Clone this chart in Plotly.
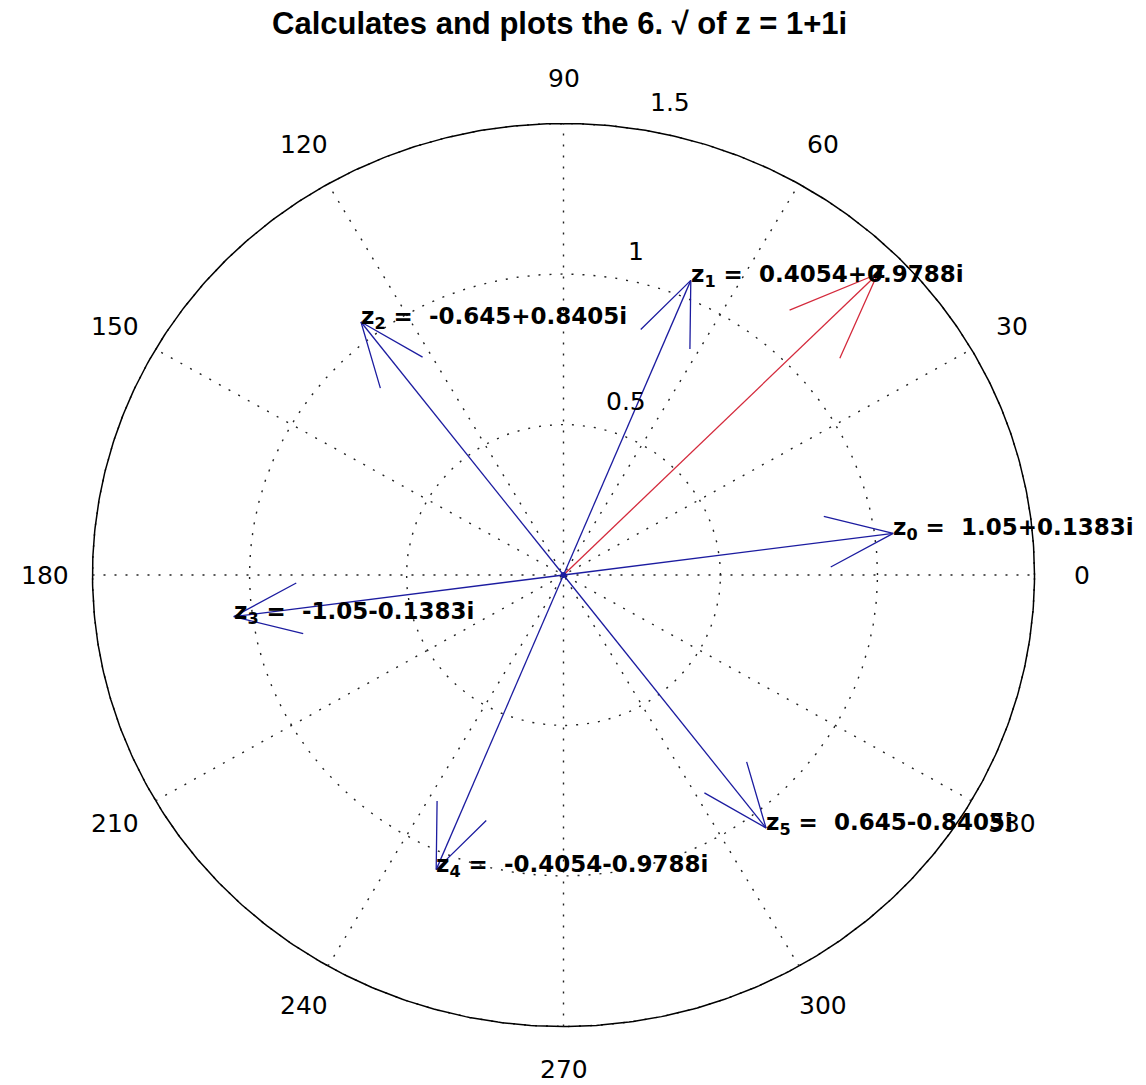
import numpy as np
import plotly.graph_objects as go

# ---- data ----
root_re = [1.05, 0.4054, -0.645, -1.05, -0.4054, 0.645]
root_im = [0.1383, 0.9788, 0.8405, -0.1383, -0.9788, -0.8405]
root_txt = ["1.05+0.1383i", "0.4054+0.9788i", "-0.645+0.8405i",
            "-1.05-0.1383i", "-0.4054-0.9788i", "0.645-0.8405i"]
z_re = [1.0]
z_im = [1.0]
angle_ticks = [0, 30, 60, 90, 120, 150, 180, 210, 240, 270, 300, 330]
r_ticks = [0.5, 1.0, 1.5]
title_txt = "Calculates and plots the 6. √ of z = 1+1i"

# ---- pixel mapping (plot area = full figure) ----
W, H = 1146, 1085
CX, CY = 563.5, 575.0
SX, SY = 314.0, 301.0
xr = [-CX / SX, (W - CX) / SX]
yr = [-(H - CY) / SY, CY / SY]

rmax = max(r_ticks)
GRID = "#222222"
BLUE = "#1c1ca0"
RED = "#d42a3c"

fig = go.Figure()

# grid circles (dotted) and outer solid circle
t = np.linspace(0, 2 * np.pi, 721)
for r in r_ticks:
    fig.add_trace(go.Scatter(x=r * np.cos(t), y=r * np.sin(t), mode="lines",
                             line=dict(color=GRID, width=1.4, dash="2px,9px"),
                             hoverinfo="skip", showlegend=False))
fig.add_trace(go.Scatter(x=rmax * np.cos(t), y=rmax * np.sin(t), mode="lines",
                         line=dict(color="#000000", width=1.5),
                         hoverinfo="skip", showlegend=False))

# spokes (dotted diameters)
sx, sy = [], []
for a in angle_ticks[:6]:
    th = np.deg2rad(a)
    sx += [-rmax * np.cos(th), rmax * np.cos(th), None]
    sy += [-rmax * np.sin(th), rmax * np.sin(th), None]
fig.add_trace(go.Scatter(x=sx, y=sy, mode="lines",
                         line=dict(color=GRID, width=1.4, dash="2px,9px"),
                         hoverinfo="skip", showlegend=False))


def arrows(res, ims):
    xs, ys = [], []
    for re_, im_ in zip(res, ims):
        z = complex(re_, im_)
        b1 = 0.8 * z + 0.08j * z
        b2 = 0.8 * z - 0.08j * z
        xs += [0, z.real, None, b1.real, z.real, b2.real, None]
        ys += [0, z.imag, None, b1.imag, z.imag, b2.imag, None]
    return xs, ys


bx, by = arrows(root_re, root_im)
fig.add_trace(go.Scatter(x=bx, y=by, mode="lines", line=dict(color=BLUE, width=1.3),
                         hoverinfo="skip", showlegend=False))
rx, ry = arrows(z_re, z_im)
fig.add_trace(go.Scatter(x=rx, y=ry, mode="lines", line=dict(color=RED, width=1.3),
                         hoverinfo="skip", showlegend=False))
fig.add_trace(go.Scatter(x=[0], y=[0], mode="markers",
                         marker=dict(color=BLUE, size=6), hoverinfo="skip",
                         showlegend=False))

ann = []
LBL = dict(family="DejaVu Sans, Liberation Sans, sans-serif", size=23, color="#000000")
for k, (re_, im_, s) in enumerate(zip(root_re, root_im, root_txt)):
    ann.append(dict(x=re_, y=im_, xref="x", yref="y", xanchor="left", yanchor="middle",
                    text=f"<b>z<sub>{k}</sub> =  {s}</b>", showarrow=False, font=LBL,
                    borderpad=0, xshift=-1, yshift=4))
ann.append(dict(x=z_re[0], y=z_im[0], xref="x", yref="y", xanchor="left", yanchor="middle",
                text="<b>z</b>", showarrow=False, font=LBL, borderpad=0, xshift=-7, yshift=4))

TICK = dict(family="DejaVu Sans, Liberation Sans, sans-serif", size=25, color="#000000")
for a in angle_ticks:
    th = np.deg2rad(a)
    ann.append(dict(x=1.1 * rmax * np.cos(th), y=1.1 * rmax * np.sin(th), xref="x", yref="y",
                    text=str(a), showarrow=False, font=TICK, xanchor="center",
                    yanchor="middle", yshift=2 if a == 270 else 0))
# radial labels along the 82 degree direction (MATLAB style)
c82, s82 = np.cos(np.deg2rad(82)), np.sin(np.deg2rad(82))
for r in r_ticks:
    rr = r + 0.025
    ann.append(dict(x=rr * c82, y=rr * s82, xref="x", yref="y", text=f"{r:g}", showarrow=False,
                    font=TICK, xanchor="left", yanchor="bottom", borderpad=0,
                    xshift=19, yshift=2))

ann.append(dict(x=559 / W, y=1 - 24 / H, xref="paper", yref="paper", text=f"<b>{title_txt}</b>",
                showarrow=False, xanchor="center", yanchor="middle",
                font=dict(family="Liberation Sans, Arial, sans-serif", size=31, color="#000000")))

fig.update_layout(
    width=W, height=H, autosize=False,
    margin=dict(l=0, r=0, t=0, b=0, pad=0),
    paper_bgcolor="white", plot_bgcolor="white",
    xaxis=dict(range=xr, visible=False, fixedrange=True),
    yaxis=dict(range=yr, visible=False, fixedrange=True),
    annotations=ann, showlegend=False,
)

fig.write_html("out.html", config={"displayModeBar": False},
               post_script="document.body.style.margin='0px';")
